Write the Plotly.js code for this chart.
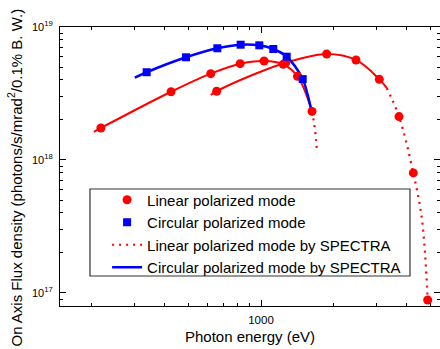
<!DOCTYPE html>
<html>
<head>
<meta charset="utf-8">
<script src="https://cdn.plot.ly/plotly-3.0.1.min.js"></script>
<style>html,body{margin:0;padding:0;background:#fff;}#chart{width:440px;height:349px;}</style>
</head>
<body>
<div id="chart"></div>
<script>
// Measured points (photon energy in eV, flux density)
const linA_x = [218, 425, 620, 820, 1030, 1235, 1415, 1625];
const linA_y = [1.74e18, 3.26e18, 4.46e18, 5.30e18, 5.55e18, 5.24e18, 4.26e18, 2.32e18];
const linB_x = [656, 1265, 1868, 2470, 3083, 3718, 4260, 4885];
const linB_y = [3.29e18, 5.39e18, 6.27e18, 5.65e18, 4.04e18, 2.12e18, 7.99e17, 8.86e16];
const circ_x = [337, 490, 660, 824, 984, 1124, 1277, 1487];
const circ_y = [4.57e18, 5.92e18, 6.92e18, 7.36e18, 7.28e18, 6.83e18, 5.98e18, 4.06e18];

// SPECTRA calculated curves
const specLinA_x = [204, 218, 425, 620, 820, 1030, 1235, 1415, 1625];
const specLinA_y = [1.63e18, 1.74e18, 3.26e18, 4.46e18, 5.30e18, 5.55e18, 5.24e18, 4.26e18, 2.32e18];
const specLinA_tail_x = [1625, 1661, 1688, 1704];
const specLinA_tail_y = [2.32e18, 1.83e18, 1.42e18, 1.17e18];
const specLinB_x = [620, 656, 960, 1265, 1868, 2470, 3083, 3308];
const specLinB_y = [3.08e18, 3.29e18, 4.49e18, 5.39e18, 6.27e18, 5.65e18, 4.04e18, 3.48e18];
const specLinB_tail_x = [3308, 3718, 4260, 4627, 4885];
const specLinB_tail_y = [3.48e18, 2.12e18, 7.99e17, 3.54e17, 8.86e16];
const specCirc_x = [301, 337, 490, 660, 824, 984, 1124, 1277, 1487, 1553, 1620];
const specCirc_y = [4.16e18, 4.57e18, 5.92e18, 6.92e18, 7.36e18, 7.28e18, 6.83e18, 5.98e18, 4.06e18, 3.17e18, 2.31e18];

// Tick labels
const xTickVals = [1000];
const xTickText = ['1000'];
const xMinorVals = [200, 300, 400, 500, 600, 700, 800, 900, 2000, 3000, 4000, 5000];
const yTickVals = [1e17, 1e18, 1e19];
const yTickText = ['10<sup>17</sup>', '10<sup>18</sup>', '10<sup>19</sup>'];
const yMinorVals = [8e16, 9e16, 2e17, 3e17, 4e17, 5e17, 6e17, 7e17, 8e17, 9e17,
                    2e18, 3e18, 4e18, 5e18, 6e18, 7e18, 8e18, 9e18];
const yTitle = 'On Axis Flux density (photons/s/mrad<sup>2</sup>/0.1% B. W.)';
const xTitle = 'Photon energy (eV)';

const RED = 'rgb(255,0,0)';
const BLUE = 'rgb(0,0,255)';
const dotted = '2px,5px';

const traces = [
  {x: specLinA_x, y: specLinA_y, mode: 'lines', line: {color: RED, width: 2, shape: 'spline'},
   legendgroup: 'spl', showlegend: false},
  {x: specLinA_tail_x, y: specLinA_tail_y, mode: 'lines', line: {color: RED, width: 2.2, dash: dotted, shape: 'spline'},
   legendgroup: 'spl', showlegend: false},
  {x: specLinB_x, y: specLinB_y, mode: 'lines', line: {color: RED, width: 2, shape: 'spline'},
   legendgroup: 'spl', showlegend: false},
  {x: specLinB_tail_x, y: specLinB_tail_y, mode: 'lines', line: {color: RED, width: 2.2, dash: dotted, shape: 'spline'},
   legendgroup: 'spl', name: 'Linear polarized mode by SPECTRA', showlegend: true, legendrank: 3},
  {x: specCirc_x, y: specCirc_y, mode: 'lines', line: {color: BLUE, width: 2.5, shape: 'spline'},
   name: 'Circular polarized mode by SPECTRA', legendrank: 4},
  {x: linA_x, y: linA_y, mode: 'markers', marker: {color: RED, size: 9, symbol: 'circle'},
   legendgroup: 'lin', name: 'Linear polarized mode', legendrank: 1},
  {x: linB_x, y: linB_y, mode: 'markers', marker: {color: RED, size: 9, symbol: 'circle'},
   legendgroup: 'lin', showlegend: false},
  {x: circ_x, y: circ_y, mode: 'markers', marker: {color: BLUE, size: 8, symbol: 'square'},
   name: 'Circular polarized mode', legendrank: 2}
];

const axisCommon = {
  type: 'log', showline: true, linecolor: 'black', linewidth: 1, mirror: 'ticks',
  ticks: 'inside', ticklen: 6, tickwidth: 1, tickcolor: 'black',
  showgrid: false, zeroline: false, tickmode: 'array'
};

const layout = {
  width: 440, height: 349,
  margin: {l: 60, r: 0, t: 27, b: 43},
  paper_bgcolor: 'white', plot_bgcolor: 'white',
  font: {family: '"Liberation Sans", Arial, Helvetica, sans-serif', color: 'black'},
  showlegend: true,
  xaxis: Object.assign({}, axisCommon, {
    range: [2.1694, 3.7397],
    tickvals: xTickVals, ticktext: xTickText,
    tickfont: {size: 11.5}, ticklabelstandoff: 3,
    minor: {tickvals: xMinorVals, ticks: 'inside', ticklen: 3, tickwidth: 1, tickcolor: 'black'},
    title: {text: xTitle, font: {size: 15}, standoff: 6}
  }),
  yaxis: Object.assign({}, axisCommon, {
    range: [16.902, 19.0],
    tickvals: yTickVals, ticktext: yTickText,
    tickfont: {size: 11}, ticklabelstandoff: 4,
    minor: {tickvals: yMinorVals, ticks: 'inside', ticklen: 3, tickwidth: 1, tickcolor: 'black'}
  }),
  annotations: [{
    text: yTitle, textangle: -90, showarrow: false,
    xref: 'paper', yref: 'paper', x: -0.1184, y: 0.4606,
    xanchor: 'center', yanchor: 'middle', font: {size: 15}
  }],
  legend: {
    x: 0.1239, y: 0.439, xanchor: 'left', yanchor: 'top',
    bgcolor: 'rgba(0,0,0,0)', borderwidth: 0,
    font: {size: 15}, traceorder: 'normal'
  },
  shapes: [{
    type: 'rect', xref: 'paper', yref: 'paper',
    x0: 0.0789, x1: 0.921, y0: 0.1075, y1: 0.4194,
    line: {color: '#333', width: 1.2}, fillcolor: 'rgba(0,0,0,0)', layer: 'above'
  }]
};

Plotly.newPlot('chart', traces, layout, {staticPlot: true, displayModeBar: false});
</script>
</body>
</html>
